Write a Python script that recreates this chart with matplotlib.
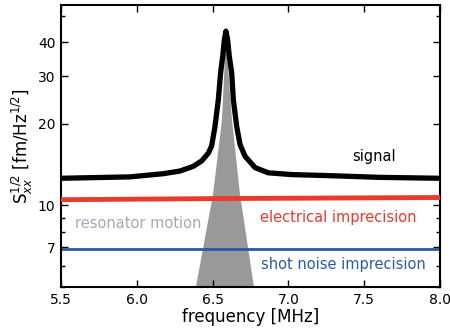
import matplotlib
matplotlib.use("Agg")
import matplotlib.pyplot as plt
from matplotlib.ticker import FixedLocator, NullFormatter

# signal (black)
signal_freq = [5.5, 5.955, 6.175, 6.285, 6.373, 6.428, 6.472, 6.494, 6.516, 6.538,
               6.553, 6.567, 6.578, 6.588, 6.599, 6.610, 6.626, 6.637, 6.659, 6.681,
               6.714, 6.780, 6.867, 7.022, 7.241, 7.6, 8.0]
signal_val = [12.6, 12.75, 13.1, 13.4, 13.95, 14.6, 15.6, 16.6, 19.6, 24.6,
              30.9, 35.6, 41.0, 44.0, 41.0, 35.6, 30.9, 24.6, 19.6, 16.8,
              15.2, 13.8, 13.2, 13.0, 12.9, 12.7, 12.6]

# resonator motion (grey fill)
motion_freq = [6.37, 6.390, 6.503, 6.562, 6.588, 6.628, 6.681, 6.773, 6.80]
motion_val = [4.5, 5.0, 11.0, 20.7, 42.0, 20.7, 11.0, 5.0, 4.5]

# electrical imprecision (red)
elec_freq = [5.5, 6.5, 8.0]
elec_val = [10.5, 10.6, 10.7]

# shot noise imprecision (blue)
shot_freq = [5.5, 8.0]
shot_val = [6.92, 6.92]

red = "#ea3a2f"
blue = "#2c5aa6"

fig = plt.figure(figsize=(4.5, 3.28), dpi=100)
ax = fig.add_axes([0.1356, 0.125, 0.842, 0.860])

ax.fill_between(motion_freq, 1, motion_val, color="#999999", lw=0, zorder=1)
ax.plot(shot_freq, shot_val, color=blue, lw=2.0, zorder=2)
ax.plot(elec_freq, elec_val, color=red, lw=3.5, zorder=3)
ax.plot(signal_freq, signal_val, color="black", lw=3.8, zorder=4,
        solid_joinstyle="round", solid_capstyle="round")

ax.set_yscale("log")
ax.set_xlim(5.5, 8.0)
ax.set_ylim(5.0, 55.0)
ax.set_xticks([5.5, 6.0, 6.5, 7.0, 7.5, 8.0])
ax.set_xticklabels(["5.5", "6.0", "6.5", "7.0", "7.5", "8.0"])
ax.yaxis.set_major_locator(FixedLocator([7, 10, 20, 30, 40]))
ax.yaxis.set_minor_locator(FixedLocator([5, 6, 8, 9, 50]))
ax.yaxis.set_minor_formatter(NullFormatter())
ax.set_yticklabels(["7", "10", "20", "30", "40"])

ax.tick_params(which="both", direction="in", top=True, right=True,
               labelsize=10, width=1)
ax.tick_params(which="major", length=5, pad=4)
ax.tick_params(which="minor", length=3)
for s in ax.spines.values():
    s.set_linewidth(1.5)

ax.set_xlabel("frequency [MHz]", fontsize=12, labelpad=1)
ax.set_ylabel(r"S$_{xx}^{1/2}$ [fm/Hz$^{1/2}$]", fontsize=12, labelpad=2)

ax.text(7.565, 15.2, "signal", color="black", fontsize=10.5, ha="center", va="center")
ax.text(7.33, 9.03, "electrical imprecision", color=red, fontsize=10.5,
        ha="center", va="center")
ax.text(6.01, 8.58, "resonator motion", color="#a8a8a8", fontsize=10.5,
        ha="center", va="center")
ax.text(7.36, 6.05, "shot noise imprecision", color=blue, fontsize=10.5,
        ha="center", va="center")

fig.savefig("out.png", dpi=100)
